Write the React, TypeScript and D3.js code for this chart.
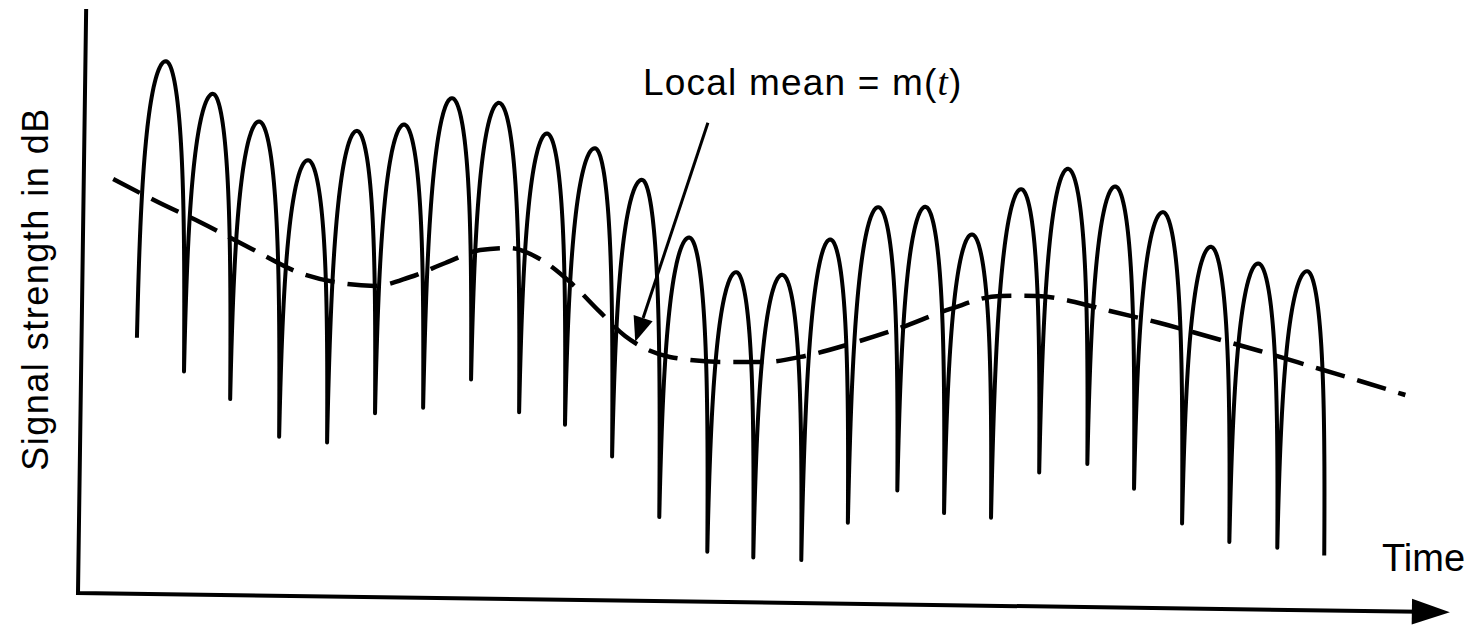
import React from 'react';
import * as d3 from 'd3';

// dips (arch end points) and peaks of the fading signal, time in arbitrary units, level in dB
const dipT = [1.13, 2.1, 3.05, 4.06, 5.04, 6.01, 6.99, 7.96, 8.95, 9.89, 10.86, 11.84, 12.83, 13.77, 14.75, 15.69, 16.69, 17.65, 18.61, 19.58, 20.56, 21.52, 22.51, 23.48, 24.46, 25.42];
const dipV = [25.6, 22.3, 19.6, 15.9, 15.4, 18.4, 19.0, 21.9, 18.7, 17.5, 14.4, 8.4, 5.0, 4.5, 4.3, 8.1, 11.4, 9.2, 8.8, 13.4, 14.3, 11.9, 8.5, 6.7, 6.2, 5.5];
const peakT = [1.64, 2.61, 3.56, 4.57, 5.56, 6.52, 7.49, 8.45, 9.44, 10.42, 11.39, 12.37, 13.34, 14.28, 15.25, 16.22, 17.18, 18.14, 19.13, 20.08, 21.05, 22.03, 23.02, 23.99, 24.99];
const peakV = [53.3, 50.1, 47.4, 43.6, 46.6, 47.3, 50.0, 49.6, 46.6, 45.2, 42.1, 36.4, 33.0, 32.8, 36.4, 39.7, 39.8, 37.1, 41.7, 43.8, 42.1, 39.6, 36.2, 34.6, 33.9];

// local mean m(t)
const meanT = [0.6, 1.56, 2.38, 3.41, 4.44, 5.26, 5.97, 6.69, 7.4, 8.11, 8.72, 9.33, 9.95, 10.57, 11.09, 11.44, 12.01, 13.04, 13.96, 14.77, 15.68, 16.7, 17.72, 18.73, 19.49, 20.16, 20.98, 22.0, 23.03, 24.05, 25.28, 26.1, 27.03];
const meanV = [41.45, 39.11, 37.27, 34.74, 32.31, 31.37, 31.12, 32.06, 33.51, 34.86, 35.1, 34.05, 31.79, 28.83, 26.46, 25.39, 24.43, 24.0, 24.06, 24.72, 25.98, 27.65, 29.62, 30.99, 31.04, 30.59, 29.64, 28.51, 27.18, 25.85, 24.13, 22.99, 21.65];

// annotation arrow: tail and tip (tip on the mean curve)
const noteT = [12.72, 11.3];
const noteV = [47.9, 25.9];

const xMax = 28;
const yTop = 58.4;

const W = 1476;
const H = 629;

// arch profile: 0 at the peak, 1 at the dip, steep near the dip (log|sin| like)
const E = 0.05;
const g = (u: number) => Math.log((Math.sin((Math.PI * u) / 2) + E) / (1 + E)) / Math.log(E / (1 + E));

const App = () => {
  const x = d3.scaleLinear().domain([0, xMax]).range([78, 1450]);
  const y = d3.scaleLinear().domain([0, 60]).range([593, -7]);

  const N = 40;
  const pts: [number, number][] = [];
  for (let i = 0; i < peakT.length; i++) {
    const lt = dipT[i], lv = dipV[i], pt = peakT[i], pv = peakV[i], rt = dipT[i + 1], rv = dipV[i + 1];
    for (let k = i === 0 ? 0 : 1; k <= N; k++) {
      const u = Math.pow(k / N, 2);
      pts.push([lt + (pt - lt) * u, pv - (pv - lv) * g(u)]);
    }
    for (let k = N - 1; k >= 0; k--) {
      const u = Math.pow(k / N, 2);
      pts.push([rt - (rt - pt) * u, pv - (pv - rv) * g(u)]);
    }
  }

  const line = d3
    .line<[number, number]>()
    .x((d) => x(d[0]))
    .y((d) => y(d[1]));

  const meanLine = d3
    .line<number>()
    .x((d, i) => x(meanT[i]))
    .y((d) => y(d))
    .curve(d3.curveMonotoneX);

  // annotation arrow
  const ax0 = x(noteT[0]), ay0 = y(noteV[0]), ax1 = x(noteT[1]), ay1 = y(noteV[1]);
  const len = Math.hypot(ax1 - ax0, ay1 - ay0);
  const ux = (ax1 - ax0) / len, uy = (ay1 - ay0) / len;
  const bx = ax1 - ux * 25, by = ay1 - uy * 25;
  const head = `${ax1},${ay1} ${bx - uy * 10},${by + ux * 10} ${bx + uy * 10},${by - ux * 10}`;

  const x0 = x(0), y0 = y(0), xEnd = x(xMax);

  return (
    <svg width={W} height={H} style={{ position: 'absolute', left: 0, top: 0, background: '#fff' }}>
      <g transform="rotate(0.8, 78, 593)">
        {/* axes */}
        <path d={`M${x0},${y(yTop)} L${x0},${y0} L${xEnd - 30},${y0}`} fill="none" stroke="#000" strokeWidth={4} strokeLinejoin="miter" />
        <polygon points={`${xEnd},${y0} ${xEnd - 38},${y0 - 13} ${xEnd - 38},${y0 + 13}`} fill="#000" />

        {/* signal */}
        <path d={line(pts) || ''} fill="none" stroke="#000" strokeWidth={4} strokeLinejoin="round" />

        {/* local mean */}
        <path d={meanLine(meanV) || ''} fill="none" stroke="#000" strokeWidth={4.5} strokeDasharray="30 13" />

        {/* annotation */}
        <line x1={ax0} y1={ay0} x2={bx} y2={by} stroke="#000" strokeWidth={3} />
        <polygon points={head} fill="#000" />
      </g>

      <text x={643} y={95} fontFamily="Liberation Sans, Arial, sans-serif" fontSize={37} letterSpacing={1.2} fill="#000">
        Local mean = m(
        <tspan fontFamily="Liberation Serif, Times New Roman, serif" fontStyle="italic">t</tspan>
        <tspan>)</tspan>
      </text>

      <text x={1382} y={571} fontFamily="Liberation Sans, Arial, sans-serif" fontSize={38} fill="#000">
        Time
      </text>

      <text
        transform="translate(48, 289) rotate(-90)"
        textAnchor="middle"
        fontFamily="Liberation Sans, Arial, sans-serif"
        fontSize={36}
        letterSpacing={1.5}
        fill="#000"
      >
        Signal strength in dB
      </text>
    </svg>
  );
};

export default App;
